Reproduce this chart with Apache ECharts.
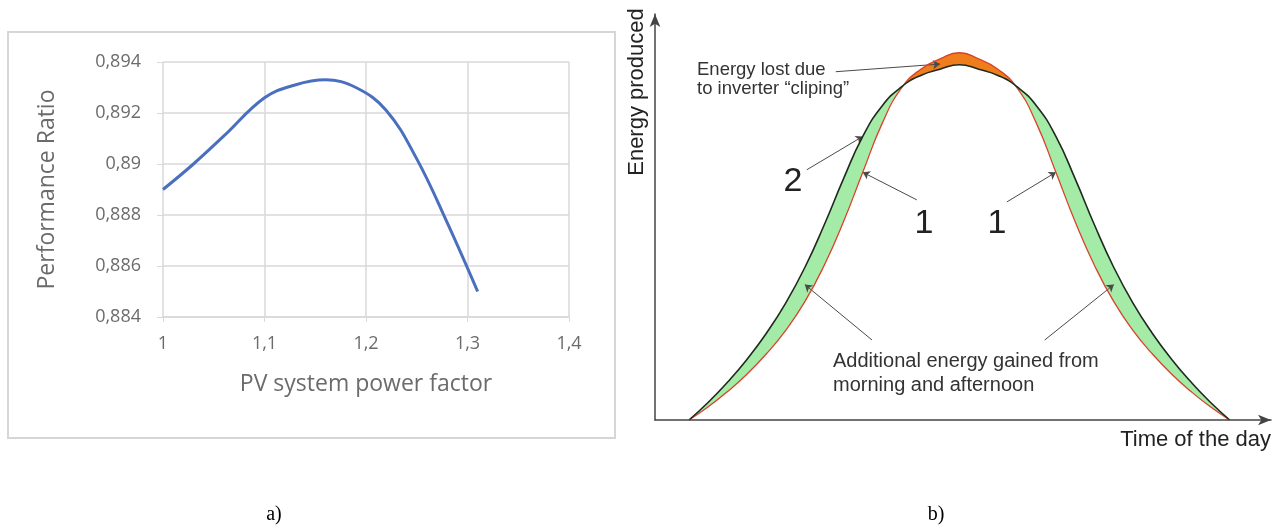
<!DOCTYPE html>
<html>
<head>
<meta charset="utf-8">
<script src="https://cdn.jsdelivr.net/npm/echarts@6/dist/echarts.min.js"></script>
<style>
html,body{margin:0;padding:0;background:#fff;}
#chart{width:1283px;height:531px;}
</style>
</head>
<body>
<div id="chart"></div>
<script>
// ---- panel a) data ----
const powerFactor = [1.00, 1.03, 1.06, 1.10, 1.13, 1.16, 1.19, 1.22, 1.25, 1.28, 1.31];
const performanceRatio = [0.8890, 0.8900, 0.8911, 0.8926, 0.8931, 0.8933, 0.8930, 0.8921, 0.8902, 0.8877, 0.8850];
const prTicks = [0.884, 0.886, 0.888, 0.890, 0.892, 0.894];
const pfTicks = [1.0, 1.1, 1.2, 1.3, 1.4];

// ---- panel b) schematic data (time of day in hours, energy in relative units) ----
const hours = [6,6.5,7,7.5,8,8.5,9,9.5,10,10.5,11,11.5,12,12.5,13,13.5,14,14.5,15,15.5,16,16.5,17,17.5,18,18.5,19,19.5,20];
const curve2 = [0,4.3,9.2,14.7,21.0,28.3,37.0,47.3,58.5,68.8,76.2,80.8,83.6,85.1,86.2,85.1,83.6,80.8,76.2,68.8,58.5,47.3,37.0,28.3,21.0,14.7,9.2,4.3,0];
const curve1 = [0,3.2,6.9,11.1,16.0,21.7,28.7,37.5,48.1,60.1,71.9,80.5,85.1,87.6,89.1,87.6,85.1,80.5,71.9,60.1,48.1,37.5,28.7,21.7,16.0,11.1,6.9,3.2,0];

const fmtComma = v => (Math.round(v * 1000) / 1000).toString().replace('.', ',');
const pairs = (xs, ys) => xs.map((x, i) => [x, ys[i]]);
const lower = curve1.map((v, i) => Math.min(v, curve2[i]));

const chart = echarts.init(document.getElementById('chart'), null, {renderer: 'canvas'});
const grayTxt = '#6b6b6b';
const arrowLine = '#4a4a4a';

// annotation arrows (start near the label, head anchored on data points)
const arrows = [
  [[9.80, 84.5], [hours[13], (curve1[13] + curve2[13]) / 2]],
  [[9.05, 60.7], [hours[9], curve2[9]]],
  [[11.9, 53.4], [hours[9], curve1[9]]],
  [[14.23, 52.9], [hours[19], curve1[19]]],
  [[10.74, 19.4], [hours[6], (curve1[6] + curve2[6]) / 2]],
  [[15.21, 19.4], [hours[22], (curve1[22] + curve2[22]) / 2]]
];

const areaSeries = (ys, color, z) => ({
  type: 'line', xAxisIndex: 1, yAxisIndex: 1, smooth: true, showSymbol: false,
  data: pairs(hours, ys), lineStyle: {width: 0, opacity: 0},
  areaStyle: {color: color, opacity: 1}, silent: true, z: z
});

const txt = (x, y, text, font, fill, align, extra) => Object.assign({
  type: 'text', x: x, y: y, z: 50,
  style: {text: text, font: font, fill: fill, textAlign: align, textVerticalAlign: 'middle'}
}, extra || {});

const option = {
  animation: false,
  grid: [
    {left: 163, right: 714, top: 62, bottom: 214},
    {left: 655, right: 12, top: 14, bottom: 111}
  ],
  xAxis: [
    {
      type: 'value', gridIndex: 0, min: 1.0, max: 1.4, interval: 0.1,
      axisLine: {show: true, lineStyle: {color: '#d9d9d9', width: 1.5}},
      axisTick: {show: true, length: 5, lineStyle: {color: '#d9d9d9'}},
      splitLine: {show: true, lineStyle: {color: '#d9d9d9', width: 1.5}},
      axisLabel: {color: grayTxt, fontSize: 18, fontFamily: 'Open Sans', margin: 18,
        formatter: v => fmtComma(v)},
      name: 'PV system power factor', nameLocation: 'middle', nameGap: 56,
      nameTextStyle: {color: grayTxt, fontSize: 23, fontFamily: 'Open Sans'}
    },
    {
      type: 'value', gridIndex: 1, min: 5.12, max: 21.07, z: 10,
      axisLine: {show: true, symbol: ['none', 'arrow'], symbolSize: [8, 13],
        lineStyle: {color: '#444', width: 1.5}},
      axisTick: {show: false}, axisLabel: {show: false}, splitLine: {show: false}
    }
  ],
  yAxis: [
    {
      type: 'value', gridIndex: 0, min: 0.884, max: 0.894, interval: 0.002,
      axisLine: {show: false},
      axisTick: {show: true, length: 6, lineStyle: {color: '#d9d9d9'}},
      splitLine: {show: true, lineStyle: {color: '#d9d9d9', width: 1.5}},
      axisLabel: {color: grayTxt, fontSize: 18, fontFamily: 'Open Sans', margin: 22,
        formatter: v => fmtComma(v)},
      name: 'Performance Ratio', nameLocation: 'middle', nameGap: 104,
      nameTextStyle: {color: grayTxt, fontSize: 23, fontFamily: 'Open Sans'}
    },
    {
      type: 'value', gridIndex: 1, min: 0, max: 98.5, z: 10,
      axisLine: {show: true, symbol: ['none', 'arrow'], symbolSize: [8, 13],
        lineStyle: {color: '#444', width: 1.5}},
      axisTick: {show: false}, axisLabel: {show: false}, splitLine: {show: false}
    }
  ],
  series: [
    {
      type: 'line', xAxisIndex: 0, yAxisIndex: 0, smooth: 0.4, showSymbol: false,
      data: pairs(powerFactor, performanceRatio),
      lineStyle: {color: '#4a6fbf', width: 3}, z: 5
    },
    areaSeries(curve1, '#f07d1c', 2),
    areaSeries(curve2, '#a3eba6', 3),
    areaSeries(lower, '#ffffff', 4),
    {
      type: 'line', xAxisIndex: 1, yAxisIndex: 1, smooth: true, showSymbol: false,
      data: pairs(hours, curve1), lineStyle: {color: '#d9432b', width: 1.3}, z: 6
    },
    {
      type: 'line', xAxisIndex: 1, yAxisIndex: 1, smooth: true, showSymbol: false,
      data: pairs(hours, curve2), lineStyle: {color: '#1f2a1f', width: 1.6}, z: 7,
      markLine: {
        silent: true, symbol: ['none', 'arrow'], symbolSize: 7, animation: false,
        lineStyle: {color: arrowLine, width: 1, type: 'solid'},
        label: {show: false},
        data: arrows.map(a => [{coord: a[0]}, {coord: a[1]}])
      }
    }
  ],
  graphic: [
    {type: 'rect', shape: {x: 8, y: 32, width: 607, height: 406},
      style: {fill: 'none', stroke: '#d6d6d6', lineWidth: 2}, z: -1},
    txt(274, 515, 'a)', '20px "Liberation Serif"', '#000', 'center'),
    txt(936, 515, 'b)', '20px "Liberation Serif"', '#000', 'center'),
    txt(637, 92, 'Energy produced', '22px "Liberation Sans"', '#222', 'center', {rotation: Math.PI / 2}),
    txt(1271, 440, 'Time of the day', '22px "Liberation Sans"', '#222', 'right'),
    txt(697, 70, 'Energy lost due', '18.5px "Liberation Sans"', '#333', 'left'),
    txt(697, 89, 'to inverter \u201ccliping\u201d', '18.5px "Liberation Sans"', '#333', 'left'),
    txt(793, 182, '2', '34px "Liberation Sans"', '#222', 'center'),
    txt(924, 224, '1', '34px "Liberation Sans"', '#222', 'center'),
    txt(997, 224, '1', '34px "Liberation Sans"', '#222', 'center'),
    txt(833, 361, 'Additional energy gained from', '20px "Liberation Sans"', '#333', 'left'),
    txt(833, 385, 'morning and afternoon', '20px "Liberation Sans"', '#333', 'left')
  ]
};
chart.setOption(option);
</script>
</body>
</html>
